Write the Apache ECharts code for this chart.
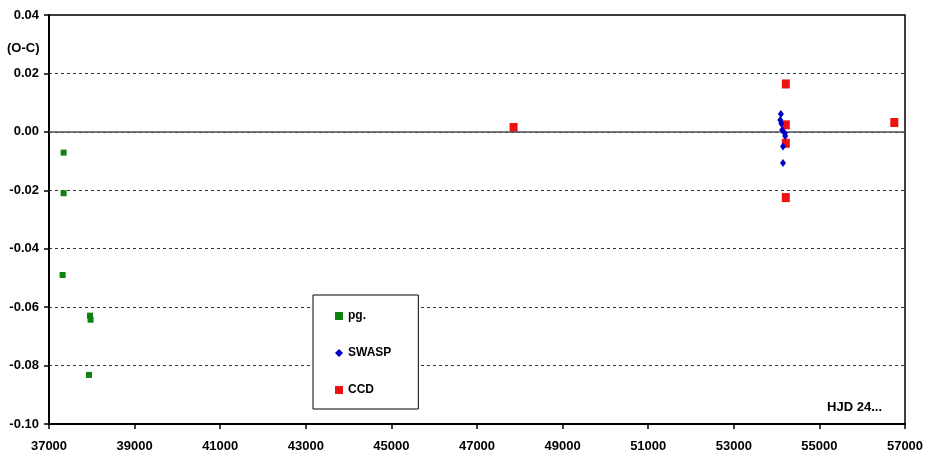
<!DOCTYPE html>
<html>
<head>
<meta charset="utf-8">
<script src="https://cdn.jsdelivr.net/npm/echarts@6/dist/echarts.min.js"></script>
<style>
  html, body { margin: 0; padding: 0; background: #fff; }
  #chart { width: 933px; height: 456px; }
</style>
</head>
<body>
<div id="chart"></div>
<script>
// O-C residuals against HJD 24... for three kinds of timings
const seriesNames = ['pg.', 'SWASP', 'CCD'];

const pgPoints = [
  [37341, -0.0071], [37341, -0.0210], [37318, -0.0490],
  [37957, -0.0629], [37971, -0.0643], [37934, -0.0832]
];

const swaspPoints = [
  [54100, 0.0061], [54085, 0.0041], [54110, 0.0029], [54130, 0.0006],
  [54190, -0.0005], [54200, -0.0014], [54150, -0.0050], [54150, -0.0107]
];

const ccdPoints = [
  [47855, 0.0015], [54215, 0.0164], [54215, 0.0024],
  [54215, -0.0039], [54215, -0.0225], [56750, 0.0032]
];

const xTicks = { min: 37000, max: 57000, step: 2000 };
const yTicks = { min: -0.10, max: 0.04, step: 0.02 };

const font = "'Liberation Sans', Arial, sans-serif";
const chart = echarts.init(document.getElementById('chart'), null, { renderer: 'canvas' });

chart.setOption({
  backgroundColor: '#fff',
  animation: false,
  grid: {
    left: 49, right: 28, top: 15, bottom: 32,
    show: true, borderColor: '#000', borderWidth: 1.5, backgroundColor: 'transparent'
  },
  xAxis: {
    type: 'value',
    min: xTicks.min, max: xTicks.max, interval: xTicks.step,
    axisLine: { onZero: false, lineStyle: { color: '#000', width: 2 } },
    axisTick: { show: true, length: 5, lineStyle: { color: '#000', width: 1.5 } },
    axisLabel: {
      margin: 16, color: '#000', fontFamily: font, fontWeight: 'bold', fontSize: 13,
      formatter: v => String(v)
    },
    splitLine: { show: false }
  },
  yAxis: {
    type: 'value',
    min: yTicks.min, max: yTicks.max, interval: yTicks.step,
    axisLine: { show: true, lineStyle: { color: '#000', width: 2 } },
    axisTick: { show: true, length: 5, lineStyle: { color: '#000', width: 1.5 } },
    axisLabel: {
      margin: 10, color: '#000', fontFamily: font, fontWeight: 'bold', fontSize: 13,
      formatter: v => v.toFixed(2)
    },
    splitLine: { show: true, lineStyle: { color: '#333', type: [3, 3], width: 1 } }
  },
  legend: {
    orient: 'vertical',
    left: 313, top: 295,
    padding: [15, 27, 13, 22],
    itemGap: 25,
    itemWidth: 8, itemHeight: 8,
    backgroundColor: '#fff',
    borderColor: '#000', borderWidth: 1,
    textStyle: { color: '#000', fontFamily: font, fontWeight: 'bold', fontSize: 12 },
    data: [
      { name: seriesNames[0], icon: 'rect' },
      { name: seriesNames[1], icon: 'diamond' },
      { name: seriesNames[2], icon: 'rect' }
    ]
  },
  graphic: [
    {
      type: 'text', left: 7, top: 42,
      style: { text: '(O-C)', fill: '#000', font: 'bold 13px ' + font }
    },
    {
      type: 'text', right: 51, top: 401,
      style: { text: 'HJD 24...', fill: '#000', font: 'bold 13px ' + font }
    }
  ],
  series: [
    {
      name: seriesNames[0], type: 'scatter', data: pgPoints,
      symbol: 'rect', symbolSize: 6,
      itemStyle: { color: '#108010', opacity: 1 }, z: 3,
      markLine: {
        silent: true, symbol: 'none', label: { show: false },
        lineStyle: { color: '#555', type: 'solid', width: 1.5 },
        data: [{ yAxis: 0 }]
      }
    },
    {
      name: seriesNames[1], type: 'scatter', data: swaspPoints,
      symbol: 'diamond', symbolSize: [6, 8],
      itemStyle: { color: '#0000c8', opacity: 1 }, z: 5
    },
    {
      name: seriesNames[2], type: 'scatter', data: ccdPoints,
      symbol: 'rect', symbolSize: [8, 9],
      itemStyle: { color: '#ee1111', opacity: 1 }, z: 4
    }
  ]
});
</script>
</body>
</html>
